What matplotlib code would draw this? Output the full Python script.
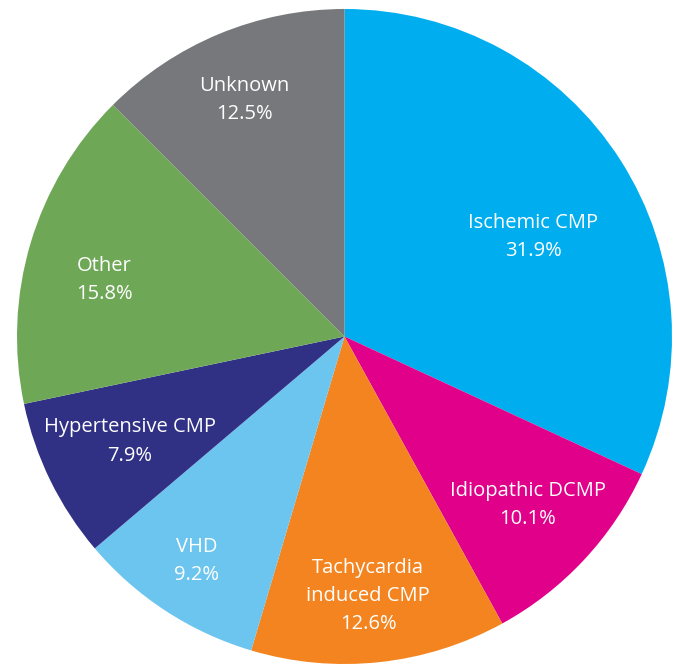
import numpy as np
import matplotlib
matplotlib.use("Agg")
import matplotlib.pyplot as plt

labels = ["Ischemic CMP", "Idiopathic DCMP", "Tachycardia\ninduced CMP", "VHD",
          "Hypertensive CMP", "Other", "Unknown"]
values = [31.9, 10.1, 12.6, 9.2, 7.9, 15.8, 12.5]
colors = ["#00AEEF", "#E0008A", "#F3841F", "#6CC5EE", "#303185", "#6EA857", "#77787B"]
# how far out each label sits (fraction of radius) and angular nudge in degrees
label_r = [0.651, 0.761, 0.796, 0.82, 0.729, 0.754, 0.784]
label_shift = [-4.8, 0.4, -0.9, -0.2, 0, 3.4, 0.4]

plt.rcParams['font.family'] = ['Open Sans', 'DejaVu Sans']

fig = plt.figure(figsize=(6.82, 6.66), dpi=100)
cx, cy, r = 344.5, 336.5, 327.5
ax = fig.add_axes([(cx - r) / 682, (666 - cy - r) / 666, 2 * r / 682, 2 * r / 666])

wedges, _ = ax.pie(values, colors=colors, startangle=90, counterclock=False,
                   radius=1, wedgeprops=dict(linewidth=0))

for w, lab, v, lr, sh in zip(wedges, labels, values, label_r, label_shift):
    ang = np.deg2rad((w.theta1 + w.theta2) / 2 + sh)
    x, y = lr * np.cos(ang), lr * np.sin(ang)
    ax.text(x, y, f"{lab}\n{v}%", ha="center", va="center", color="white",
            fontsize=14.5, linespacing=1.55)

ax.set_xlim(-1, 1)
ax.set_ylim(-1, 1)
ax.set_aspect("auto")
ax.axis("off")

fig.savefig("out.png", dpi=100)
